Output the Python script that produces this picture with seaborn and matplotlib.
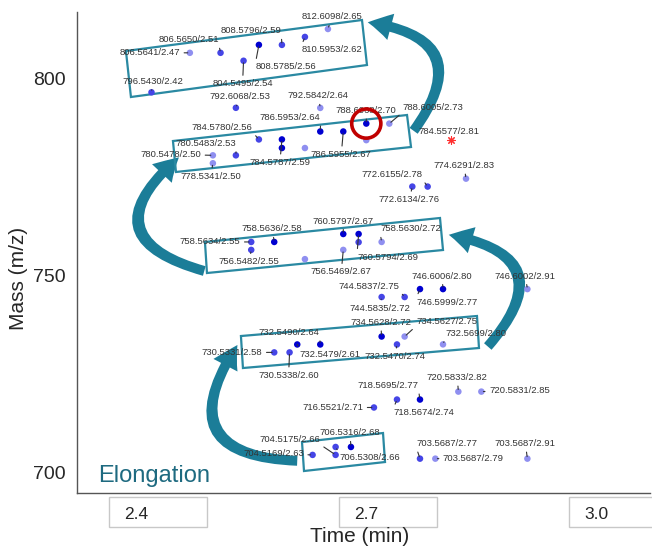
import numpy as np
import pandas as pd
import matplotlib
matplotlib.use("Agg")
import matplotlib.pyplot as plt
import matplotlib.transforms as mtransforms
from matplotlib.patches import Polygon, FancyArrowPatch, Ellipse, Rectangle
import seaborn as sns

# labelled species: m/z, retention time (min) and spot intensity class
mass = [812.6098, 806.5641, 806.5650, 808.5796, 808.5785, 810.5953, 804.5495, 796.5430,
        792.6068, 792.5842, 786.5953, 788.6068, 788.6005, 784.5780, 780.5483, 780.5478,
        778.5341, 784.5787, 786.5955,
        774.6291, 772.6155, 772.6134,
        758.5634, 758.5636, 756.5482, 760.5797, 756.5469, 760.5794, 758.5630,
        746.6006, 746.5999, 746.6002, 744.5837, 744.5835,
        730.5331, 732.5490, 732.5479, 730.5338, 734.5628, 734.5627, 732.5470, 732.5699,
        720.5833, 720.5831, 718.5695, 718.5674, 716.5521,
        704.5169, 704.5175, 706.5316, 706.5308, 703.5687, 703.5687, 703.5687]
rt = [2.65, 2.47, 2.51, 2.59, 2.56, 2.62, 2.54, 2.42,
      2.53, 2.64, 2.64, 2.70, 2.73, 2.56, 2.53, 2.50,
      2.50, 2.59, 2.67,
      2.83, 2.78, 2.76,
      2.55, 2.58, 2.55, 2.67, 2.67, 2.69, 2.72,
      2.80, 2.77, 2.91, 2.75, 2.72,
      2.58, 2.64, 2.61, 2.60, 2.72, 2.75, 2.74, 2.80,
      2.82, 2.85, 2.77, 2.74, 2.71,
      2.63, 2.66, 2.68, 2.66, 2.77, 2.79, 2.91]
shade = ["light", "light", "mid", "mid", "dark", "mid", "mid", "mid",
         "mid", "light", "dark", "dark", "light", "mid", "mid", "light",
         "light", "dark", "dark",
         "light", "mid", "mid",
         "mid", "dark", "mid", "dark", "light", "dark", "light",
         "dark", "dark", "light", "mid", "mid",
         "mid", "dark", "dark", "mid", "dark", "light", "mid", "light",
         "light", "light", "dark", "mid", "mid",
         "mid", "mid", "dark", "mid", "mid", "light", "light"]

# unlabelled spots
extra_mass = [782.4, 782.4, 784.4, 754.2, 758.5]
extra_rt = [2.59, 2.62, 2.70, 2.62, 2.69]
extra_shade = ["dark", "light", "light", "light", "mid"]

# outlier marked with a red asterisk
odd_mass = [784.5577]
odd_rt = [2.81]

highlight = 11  # index of circled species

# label placement (pixels from the spot)
offsets = [(4, 12), (-40, 0), (-32, 13), (-31, 14), (27, -22), (27, -13), (-1, -23), (1, 11),
           (4, 11), (-2, 12), (-30, 14), (0, 13), (44, 16), (-37, 12), (-30, 12), (-42, 1),
           (-2, -13), (-2, -23), (-2, -23),
           (-2, 13), (-36, 12), (-3, -13),
           (-41, 0), (-2, 13), (-2, -12), (0, 13), (-2, -22), (29, -23), (29, 13),
           (-1, 13), (27, -13), (-2, 13), (-36, 11), (-2, -11),
           (-42, 0), (-31, 12), (33, -10), (-1, -23), (-1, 14), (42, 15), (-2, -12), (33, 11),
           (-1, 14), (38, 1), (-32, 14), (27, -13), (-41, 0),
           (-39, 1), (-46, 15), (-1, 14), (34, -11), (27, 15), (38, 0), (-2, 15)]

df = pd.DataFrame({"rt": rt + extra_rt, "mass": mass + extra_mass,
                   "shade": shade + extra_shade})
pal = {"dark": "#0000d0", "mid": "#4545e6", "light": "#8f8ff0"}
teal = "#1b7d98"

sns.set_style("white")
plt.rcParams["font.family"] = ["Liberation Sans", "DejaVu Sans"]

fig = plt.figure(figsize=(6.52, 5.46), dpi=100)
ax = fig.add_axes([0.118, 0.097, 0.879, 0.881])

sns.scatterplot(data=df, x="rt", y="mass", hue="shade", palette=pal, s=22,
                edgecolor="none", legend=False, ax=ax, zorder=3)
ax.scatter(odd_rt, odd_mass, marker=(8, 2, 0), s=30, color="#ff3030", lw=0.8, zorder=3)

for m, t, (dx, dy) in zip(mass, rt, offsets):
    # leaders start from the label corner nearest the spot
    if abs(dx) > 15 and abs(dy) > 5:
        rel = (1 if dx < 0 else 0, 0 if dy > 0 else 1)
    else:
        rel = (0.5, 0.5)
    ax.annotate(f"{m:.4f}/{t:.2f}", xy=(t, m), xytext=(dx, dy), textcoords="offset pixels",
                ha="center", va="center", fontsize=6.8, color="#333333", zorder=4,
                arrowprops=dict(arrowstyle="-", color="#333333", lw=0.8, relpos=rel,
                                shrinkA=0.5, shrinkB=1.5))
for m, t in zip(odd_mass, odd_rt):
    ax.annotate(f"{m:.4f}/{t:.2f}", xy=(t, m), xytext=(-2, 8), textcoords="offset pixels",
                ha="center", va="center", fontsize=6.8, color="#333333", zorder=4)

# group boxes
boxes = [
    [(2.3867, 807.03), (2.6944, 814.89), (2.7009, 803.47), (2.3932, 795.35)],
    [(2.4480, 784.18), (2.7531, 790.78), (2.7583, 782.66), (2.4519, 776.32)],
    [(2.4897, 758.55), (2.7961, 764.64), (2.8000, 756.52), (2.4923, 750.68)],
    [(2.5366, 734.69), (2.8443, 739.77), (2.8469, 731.65), (2.5392, 726.57)],
    [(2.6162, 707.79), (2.7218, 710.07), (2.7244, 702.71), (2.6188, 700.43)],
]
for b in boxes:
    ax.add_patch(Polygon(b, closed=True, fill=False, ec="#2a89a2", lw=1.6, zorder=2))

# curved elongation arrows
arrows = [((2.7596, 786.2), (2.6983, 814.4), 0.85),
          ((2.4923, 751.0), (2.4585, 780.5), -0.95),
          ((2.8560, 731.5), (2.8040, 760.5), 0.9),
          ((2.6136, 703.0), (2.5340, 733.0), -0.9)]
for (x0, y0), (x1, y1), rad in arrows:
    ax.add_patch(FancyArrowPatch((x0, y0), (x1, y1), connectionstyle=f"arc3,rad={rad}",
                                 arrowstyle="simple,head_width=1.5,head_length=1.3,tail_width=0.55",
                                 mutation_scale=13, color=teal, lw=0, zorder=1))

# red circle around the highlighted species
ax.add_patch(Ellipse((rt[highlight], mass[highlight]), width=0.038, height=7.4,
                     fill=False, ec="#c00000", lw=2.6, zorder=5))

ax.text(0.037, 0.023, "Elongation", transform=ax.transAxes, fontsize=17,
        color="#1e6a80", va="baseline", ha="left")

ax.set_xlim(2.3228, 3.0699)
ax.set_ylim(694.84, 816.92)
ax.set_xticks([2.4, 2.7, 3.0])
ax.set_xticklabels(["2.4", "2.7", "3.0"])
ax.set_xticks(np.arange(2.35, 3.07, 0.05), minor=True)
ax.set_yticks([700, 750, 800])
ax.set_yticks(np.arange(696, 817, 2), minor=True)
ax.tick_params(axis="x", which="both", direction="out", length=4, width=0.8,
               color="#555555", labelsize=12.5, pad=6)
ax.tick_params(axis="y", which="both", direction="in", length=3, width=0.6,
               color="#555555", labelsize=14, pad=8)
for s in ["top", "right"]:
    ax.spines[s].set_visible(False)
for s in ["left", "bottom"]:
    ax.spines[s].set_color("#555555")
    ax.spines[s].set_linewidth(1.0)

# boxed tick labels
trans = mtransforms.blended_transform_factory(ax.transData, ax.transAxes)
for xt in [2.4, 2.7, 3.0]:
    ax.add_patch(Rectangle((xt - 0.0352, -0.0707), 0.1278, 0.0624, transform=trans,
                           fc="white", ec="#c8c8c8", lw=1.0, clip_on=False, zorder=0.5))

ax.set_xlabel("Time (min)", fontsize=15)
ax.set_ylabel("Mass (m/z)", fontsize=15)
ax.xaxis.set_label_coords(0.494, -0.071)
ax.yaxis.set_label_coords(-0.086, 0.447)

fig.savefig("out.png", dpi=100)
